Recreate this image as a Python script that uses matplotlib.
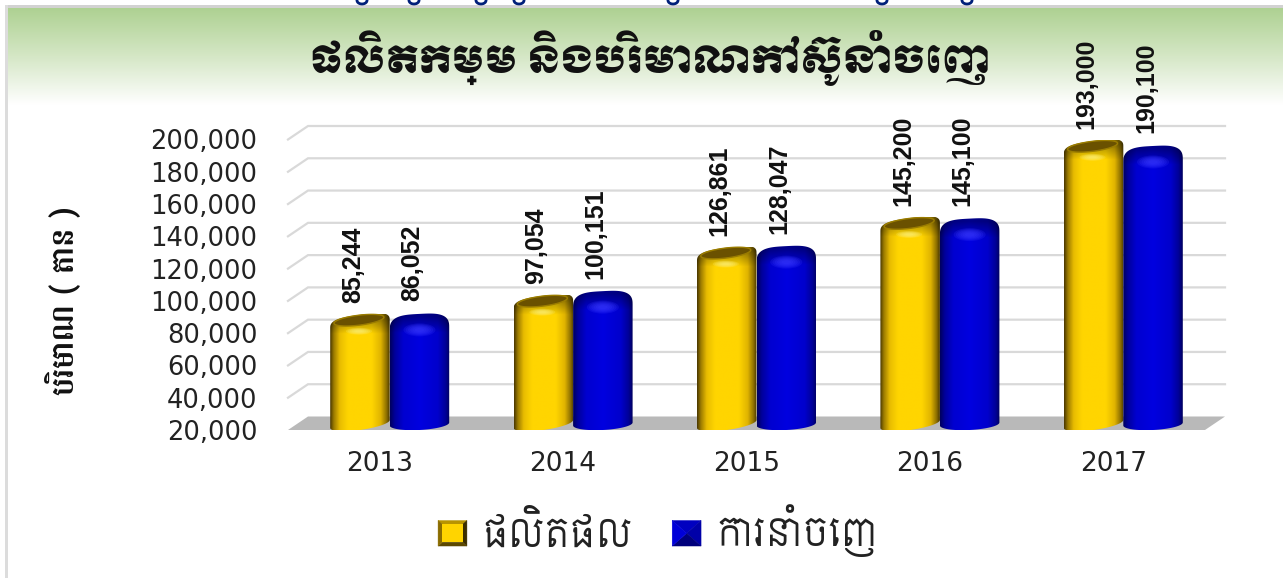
import numpy as np
import matplotlib
matplotlib.use('Agg')
import matplotlib.pyplot as plt
from matplotlib.colors import LinearSegmentedColormap
from matplotlib.patches import PathPatch, Polygon, Ellipse, Rectangle, Patch
from matplotlib.path import Path
from matplotlib.legend_handler import HandlerBase

years = ['2013', '2014', '2015', '2016', '2017']
production = [85244, 97054, 126861, 145200, 193000]
exports = [86052, 100151, 128047, 145100, 190100]
yticks = [20000, 40000, 60000, 80000, 100000, 120000, 140000, 160000, 180000, 200000]
title = 'ផលិតកម្ម និងបរិមាណកៅស៊ូនាំចេញ'
ylabel = 'បរិមាណ ( តោន )'
legend_labels = ['ផលិតផល', 'ការនាំចេញ']

W, H = 1283, 578
fig = plt.figure(figsize=(W / 100, H / 100), dpi=100, facecolor='white')

# ---------- frame and header band (pixel coordinates) ----------
bg = fig.add_axes([0, 0, 1, 1], zorder=0)
bg.set_xlim(0, W); bg.set_ylim(H, 0); bg.axis('off')
grad = LinearSegmentedColormap.from_list('g', ['#aed192', '#d5e7c6', '#ffffff'])
bg.imshow(np.linspace(0, 1, 200)[:, None], cmap=grad, extent=[7, W, 105, 8], aspect='auto')
bg.add_patch(Rectangle((5, 5), W - 5, 3, color='#d2d2d2', lw=0))
bg.add_patch(Rectangle((5, 5), 3, H - 5, color='#dcdcdc', lw=0))
bg.set_xlim(0, W); bg.set_ylim(H, 0)
for fx in [362, 414, 481, 519, 673, 882, 967]:
    t = np.linspace(0, np.pi, 12)
    bg.plot(fx + 5 * np.cos(t), 0.5 + 3.5 * np.sin(t), color='#00207a', lw=2)

# ---------- chart axes: front plane of the 3-D box ----------
L, R, B, T = 288, 1205, 430, 139.5
ax = fig.add_axes([L / W, 1 - B / H, (R - L) / W, (B - T) / H], zorder=1)
ax.patch.set_alpha(0)
ax.set_xlim(-0.5, 4.5)
ax.set_ylim(20000, 200000)
ax.autoscale(False)
for s in ax.spines.values():
    s.set_visible(False)
px = 5 / (R - L)            # data units per pixel, horizontally
py = 180000 / (B - T)       # data units per pixel, vertically
DX, DY = 20 * px, 13.5 * py   # depth of the box

# grid and floor
for v in yticks[1:]:
    ax.plot([-0.5, -0.5 + DX, 4.5 + DX], [v, v + DY, v + DY], color='#d9d9d9', lw=1.6,
            clip_on=False, zorder=1, solid_joinstyle='miter')
ax.add_patch(Polygon([(-0.5, 20000), (-0.5 + DX, 20000 + DY), (4.5 + DX, 20000 + DY), (4.5, 20000)],
                     closed=True, color='#b9b9b9', lw=0, clip_on=False, zorder=1))

BW = 59.5 * px
gold = LinearSegmentedColormap.from_list('gold', [(0, '#4a3800'), (.06, '#9a7a00'), (.16, '#e8bc00'),
                                                  (.30, '#ffd500'), (.70, '#ffd500'), (.85, '#e0b400'),
                                                  (.95, '#8a6d00'), (1, '#4a3800')])
blue = LinearSegmentedColormap.from_list('blue', [(0, '#00005e'), (.08, '#00009c'), (.22, '#0000d0'),
                                                  (.50, '#0000e0'), (.80, '#0000cc'), (.93, '#000098'),
                                                  (1, '#00005e')])


def outline(cx, v, drop, top_b, tilt):
    """Closed outline of one cylinder, in data units; the shoulder sits `drop` px under the value."""
    a = BW / 2
    y_base = 20000 + 6 * py
    y_shoulder = v + (2.5 - drop) * py
    t = np.linspace(np.pi, 0, 60)
    xt = cx + a * np.sign(np.cos(t)) * np.abs(np.cos(t)) ** 0.6
    yt = y_shoulder + top_b * py * np.abs(np.sin(t)) ** 0.7 + tilt * py * (xt - cx) / a
    t2 = np.linspace(0, -np.pi, 40)
    xb = cx + a * np.cos(t2)
    yb = y_base + 6 * py * np.sin(t2) + tilt * py * (xb - cx) / a
    return np.column_stack([np.r_[xt, xb], np.r_[yt, yb]])


def blob(cx, y, w, h, color, zorder):
    # stacked translucent ellipses give a soft highlight
    for k in np.linspace(1, 0.3, 6):
        ax.add_patch(Ellipse((cx, y), w * k * px, h * k * py, facecolor=color, edgecolor='none',
                             alpha=0.2, zorder=zorder, clip_on=False))


def draw_bar(cx, v, cmap, z, gold_style):
    drop, top_b, tilt = (2, 9.5, 4) if gold_style else (8, 15, 1.5)
    verts = outline(cx, v, drop, top_b, tilt)
    patch = PathPatch(Path(verts, closed=False), facecolor='none', edgecolor='none', zorder=z)
    ax.add_patch(patch)
    y_top = v + 2.5 * py
    top_px = 10                       # image reaches this many px above the value
    rows = int((v + top_px * py - 18000) / py)
    colors = cmap(np.linspace(0, 1, 128))[None, :, :3].repeat(rows, axis=0)
    # rim darkens towards the very top of the cylinder
    shade = np.clip(0.62 + (np.arange(rows) - top_px + 7) / 16 * 0.38, 0.62, 1)
    colors = colors * shade[:, None, None]
    im = ax.imshow(colors, aspect='auto', zorder=z, interpolation='bilinear',
                   extent=[cx - BW / 2, cx + BW / 2, 18000, v + top_px * py])
    im.set_clip_path(patch)
    if gold_style:
        theta = np.linspace(0, 2 * np.pi, 60)
        ex = cx - 1 * px + 25 * px * np.cos(theta)
        ey = y_top + 2 * py + 5 * py * np.sin(theta) + 3 * py * np.cos(theta)
        ax.add_patch(Polygon(np.column_stack([ex, ey]), closed=True, facecolor='#6a5100',
                             edgecolor='#9a7c00', lw=1, zorder=z + 0.1))
        blob(cx - 1 * px, y_top - 9 * py, 26, 7, '#fff27a', z + 0.2)
    else:
        blob(cx, y_top - 9 * py, 32, 13, '#3a3aff', z + 0.2)


x = np.arange(len(years))
for i in x:
    draw_bar(i - BW / 2 + DX / 2, production[i], gold, 3 + i * 0.01, True)
    draw_bar(i + BW / 2 + DX / 2, exports[i], blue, 4 + i * 0.01, False)
    for off, val in ((-BW / 2, production[i]), (BW / 2, exports[i])):
        ax.annotate(f'{val:,}', xy=(i + off, val), xytext=(3, 22), textcoords='offset pixels',
                    rotation=90, ha='center', va='bottom', family='Liberation Sans',
                    weight='bold', fontsize=18, color='#111111', zorder=8, annotation_clip=False)

ax.set_xticks(x, years)
ax.set_yticks(yticks, [f'{v:,}' for v in yticks])
ax.tick_params(axis='x', length=0, pad=15, labelsize=19, labelcolor='#222222')
ax.tick_params(axis='y', length=0, pad=22, labelsize=18.5, labelcolor='#222222')
ax.set_ylabel(ylabel, family=['Battambang', 'DejaVu Sans'], weight='bold', fontsize=22, color='#111111')
ax.yaxis.set_label_coords((80 - L) / (R - L), (B - 301) / (B - T))

ax.text((650 - L) / (R - L), (B - 57) / (B - T), title, transform=ax.transAxes, ha='center', va='center',
        family=['Moul', 'DejaVu Sans'], fontsize=27, color='#111111', zorder=9, clip_on=False)


# ---------- legend with bevelled keys ----------
class Bevel(HandlerBase):
    def __init__(self, shades, inset):
        super().__init__()
        self.shades, self.inset = shades, inset

    def create_artists(self, legend, orig, xd, yd, w, h, fontsize, trans):
        x0, y0 = -xd, -yd
        x1, y1 = x0 + w, y0 + h
        ix, iy = w * self.inset, h * self.inset
        a = [(x0, y1), (x1, y1), (x1, y0), (x0, y0)]
        b = [(x0 + ix, y1 - iy), (x1 - ix, y1 - iy), (x1 - ix, y0 + iy), (x0 + ix, y0 + iy)]
        art = []
        for k, c in enumerate(self.shades[:4]):
            art.append(Polygon([a[k], a[(k + 1) % 4], b[(k + 1) % 4], b[k]], closed=True,
                               facecolor=c, edgecolor=c, lw=0.3, transform=trans))
        if self.inset < 0.5:
            art.append(Polygon(b, closed=True, facecolor=self.shades[4], edgecolor='none', transform=trans))
        return art


h_gold = Patch(color='#ffd400')
h_blue = Patch(color='#0000cc')
leg = fig.legend([h_gold, h_blue], legend_labels,
                 handler_map={h_gold: Bevel(['#b89400', '#3c2e00', '#5c4800', '#8a6c00', '#ffd400'], 0.15),
                              h_blue: Bevel(['#0000c0', '#0000a8', '#00007c', '#0000d8'], 0.5)},
                 loc='center', bbox_to_anchor=(658 / W, 1 - 531 / H), ncols=2, frameon=False,
                 prop={'family': ['Siemreap', 'DejaVu Sans'], 'size': 27},
                 handlelength=0.77, handleheight=0.67, handletextpad=0.4, columnspacing=1.07, labelcolor='#222222')

fig.savefig('out.png', dpi=100)
